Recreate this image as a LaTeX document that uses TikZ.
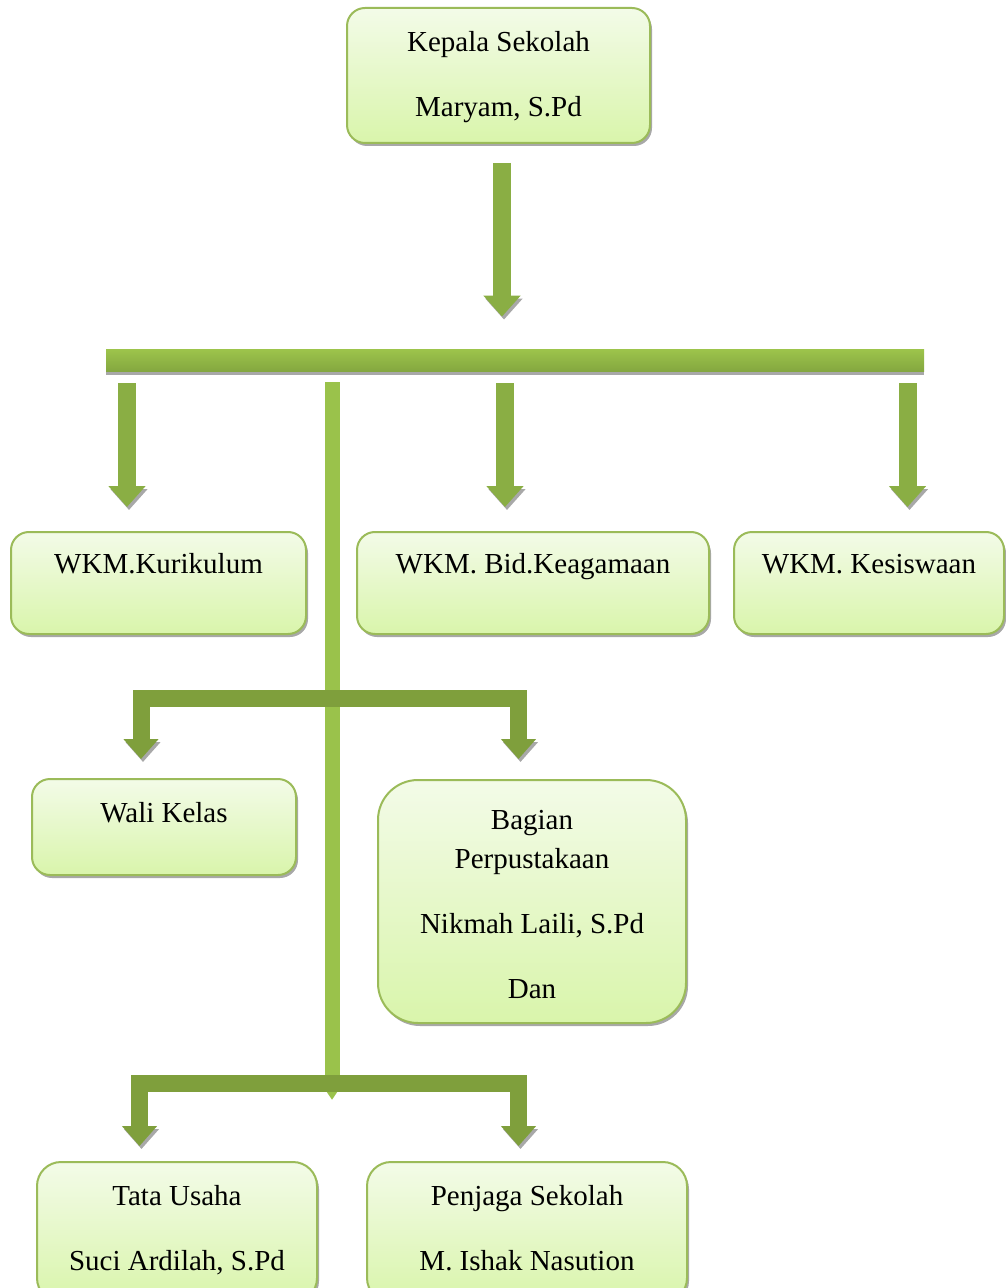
\documentclass[tikz,border=0pt]{standalone}
\usepackage{fontspec}
\setmainfont{Liberation Serif}
\usetikzlibrary{arrows.meta,calc,shadows}
\definecolor{BoxTop}{HTML}{F3FBE8}
\definecolor{BoxBottom}{HTML}{D9F5AB}
\definecolor{BoxBorder}{HTML}{9BBB59}
\definecolor{FlowGreen}{HTML}{8AAE44}
\definecolor{ElbowGreen}{HTML}{7F9F3C}
\definecolor{TrunkGreen}{HTML}{9AC24B}
\definecolor{BarTop}{HTML}{9CC34B}
\definecolor{BarBottom}{HTML}{83A63F}
\definecolor{ShadowGray}{HTML}{A8A8A8}

\begin{document}
\begin{tikzpicture}[
  x=0.5pt,y=-0.5pt,
  box/.style={draw=BoxBorder,line width=1pt,rounded corners=9pt,top color=BoxTop,
    bottom color=BoxBottom,align=center,font=\fontsize{14.5pt}{19.5pt}\selectfont,
    text height=10pt,drop shadow={shadow xshift=1pt,shadow yshift=-1.5pt,fill=ShadowGray,opacity=1}},
  bar/.style={inner sep=0pt,minimum width=409pt,minimum height=11pt,top color=BarTop,
    bottom color=BarBottom,drop shadow={shadow xshift=0pt,shadow yshift=-1.5pt,fill=ShadowGray,opacity=1}},
  flow/.style={line width=9pt,draw=FlowGreen,-{Triangle[width=18pt,length=10.5pt]},
    preaction={draw=ShadowGray,transform canvas={shift={(1pt,-1.5pt)}}}},
  elbow/.style={flow,line width=8.5pt,draw=ElbowGreen,-{Triangle[width=17pt,length=10pt]}},
  trunk/.style={line width=7.5pt,draw=TrunkGreen,-{Triangle[width=15pt,length=12pt]}}
]
  \useasboundingbox (0,0) rectangle (1005,1288);

  % boxes
  \node[box,minimum width=151.5pt,minimum height=67.5pt,text height=44.5pt,text depth=3pt] (kepala) at (498.5,75.5)
    {Kepala Sekolah\\[13pt]Maryam, S.Pd};
  \node[bar] (bar) at (515,361) {};
  \node[box,minimum width=147.5pt,minimum height=51pt,text depth=20pt] (wkmkur) at (158.5,583) {WKM.Kurikulum};
  \node[box,minimum width=176pt,minimum height=51pt,text depth=20pt] (wkmbid) at (533,583) {WKM. Bid.Keagamaan};
  \node[box,minimum width=135pt,minimum height=51pt,text depth=20pt] (wkmkes) at (869,583) {WKM. Kesiswaan};
  \node[box,minimum width=132pt,minimum height=48pt,text depth=15pt] (wali) at (164,827) {Wali Kelas};
  \node[box,rounded corners=20pt,minimum width=154pt,minimum height=121.5pt,text height=99.5pt,text depth=3pt] (bagian) at (532,901.5)
    {Bagian\\Perpustakaan\\[13pt]Nikmah Laili, S.Pd\\[13pt]Dan};
  \node[box,rounded corners=12pt,minimum width=140pt,minimum height=70pt,text height=41pt,text depth=3pt] (tata) at (177,1232)
    {Tata Usaha\\[13pt]Suci Ardilah, S.Pd};
  \node[box,rounded corners=12pt,minimum width=160pt,minimum height=70pt,text height=41pt,text depth=3pt] (penjaga) at (527,1232)
    {Penjaga Sekolah\\[13pt]M. Ishak Nasution};

  \coordinate (split1) at (333,698);
  \coordinate (split2) at (333,1083);

  % arrows
  \draw[flow] ($(kepala.south)+(3.5,19)$) -- ($(kepala.south |- bar.north)+(3.5,-33)$);
  \draw[flow] ($(bar.south -| wkmkur.north)+(-31.5,11)$) -- ($(wkmkur.north)+(-31.5,-24)$);
  \draw[flow] ($(bar.south -| wkmbid.north)+(-28,11)$) -- ($(wkmbid.north)+(-28,-24)$);
  \draw[flow] ($(bar.south -| wkmkes.north)+(38.5,11)$) -- ($(wkmkes.north)+(38.5,-24)$);
  \draw[trunk] ($(bar.south -| split1)+(-1,10)$) -- ($(split2)+(-1,17)$);
  \draw[elbow] (split1) -| ($(wali.north)+(-23,-19)$);
  \draw[elbow] (split1) -| ($(bagian.north)+(-13.5,-20)$);
  \draw[elbow] (split2) -| ($(tata.north)+(-37.5,-15)$);
  \draw[elbow] (split2) -| ($(penjaga.north)+(-8.5,-15)$);
\end{tikzpicture}
\end{document}
